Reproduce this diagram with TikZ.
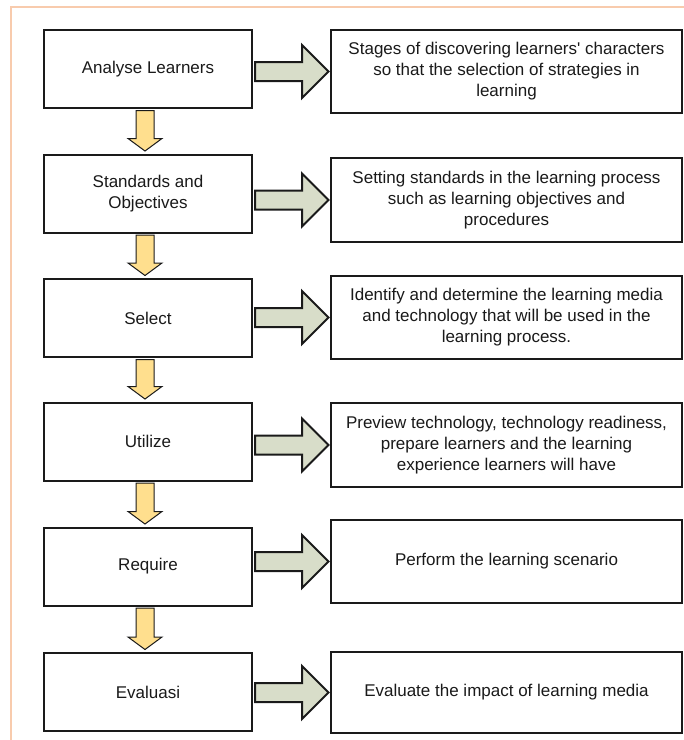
\documentclass[tikz,border=0pt]{standalone}
\usepackage{fontspec}
\setmainfont{Liberation Sans}
\newfontfamily\rawfont{Liberation Sans}
\usetikzlibrary{calc}
\definecolor{framec}{HTML}{F8CBAD}
\definecolor{greenfill}{HTML}{D8DDC9}
\definecolor{yellowfill}{HTML}{FFDF8E}
\definecolor{inkc}{HTML}{1A1A1A}
\tikzset{
  stagebox/.style={draw=inkc, line width=2pt, fill=white, minimum width=208pt, minimum height=78pt,
    align=center, text=inkc, font=\rawfont\fontsize{17}{21}\selectfont, inner sep=2pt},
  descbox/.style={draw=inkc, line width=2pt, fill=white, minimum width=351pt,
    align=center, text=inkc, font=\rawfont\fontsize{17}{21}\selectfont, inner sep=2pt},
  greenarrow/.style={draw=inkc, line width=2pt, fill=greenfill, line join=miter},
  yellowarrow/.style={draw=inkc, line width=1pt, fill=yellowfill, line join=miter},
  frameline/.style={draw=framec, line width=2pt}
}
\begin{document}
\begin{tikzpicture}[x=1pt,y=-1pt]
\useasboundingbox (0,0) rectangle (684,740);
\draw[frameline] (11,740) -- (11,7) -- (684,7);

\node[stagebox] (L1) at (148,69) {Analyse Learners};
\node[stagebox] (L2) at (148,193.5) {Standards and\\Objectives};
\node[stagebox] (L3) at (148,318) {Select};
\node[stagebox] (L4) at (148,441.5) {Utilize};
\node[stagebox] (L5) at (148,566.5) {Require};
\node[stagebox] (L6) at (148,692) {Evaluasi};

\node[descbox, minimum height=83pt] (R1) at (506.5,71.5) {Stages of discovering learners' characters\\so that the selection of strategies in\\learning};
\node[descbox, minimum height=84pt] (R2) at (506.5,200) {Setting standards in the learning process\\such as learning objectives and\\procedures};
\node[descbox, minimum height=83pt] (R3) at (506.5,317.5) {Identify and determine the learning media\\and technology that will be used in the\\learning process.};
\node[descbox, minimum height=84pt] (R4) at (506.5,445) {Preview technology, technology readiness,\\prepare learners and the learning\\experience learners will have};
\node[descbox, minimum height=83pt] (R5) at (506.5,561.5) {Perform the learning scenario};
\node[descbox, minimum height=81pt] (R6) at (506.5,692.5) {Evaluate the impact of learning media};

\foreach \r in {R1,R2,R3,R4,R5,R6}{
  \draw[greenarrow] ($(\r.west)+(-75,-9.5)$) -- ($(\r.west)+(-28,-9.5)$) -- ($(\r.west)+(-28,-26.5)$)
    -- ($(\r.west)+(-1.5,0)$) -- ($(\r.west)+(-28,26.5)$) -- ($(\r.west)+(-28,9.5)$)
    -- ($(\r.west)+(-75,9.5)$) -- cycle;
}

\foreach \a/\b in {L1/L2,L2/L3,L3/L4,L4/L5,L5/L6}{
  \draw[yellowarrow] ($(\a.south)+(-12,1.5)$) -- ($(\b.north)+(-12,-15)$) -- ($(\b.north)+(-20,-15)$)
    -- ($(\b.north)+(-3,-2.5)$) -- ($(\b.north)+(14,-15)$) -- ($(\b.north)+(6,-15)$)
    -- ($(\a.south)+(6,1.5)$) -- cycle;
}
\end{tikzpicture}
\end{document}
